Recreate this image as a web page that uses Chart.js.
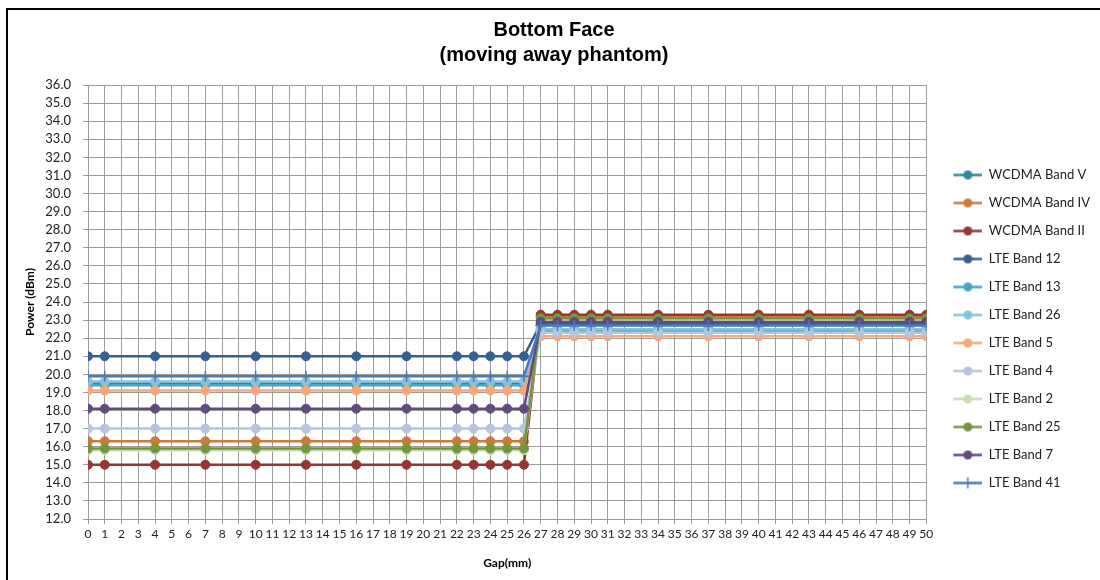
<!DOCTYPE html>
<html>
<head>
    <title>Bottom Face (moving away phantom)</title>
    <script src="https://cdn.jsdelivr.net/npm/chart.js"></script>
    <style>
        body { margin: 0; background: #fff; }
        #frame {
            position: absolute; left: 6px; top: 8px;
            width: 1094px; height: 572px;
            border-left: 2px solid #000; border-top: 2px solid #000;
        }
        #box { position: absolute; left: 0; top: 0; width: 1092px; height: 570px; }
    </style>
</head>
<body>
<div id="frame">
    <div id="box"><canvas id="powerChart"></canvas></div>
</div>
<script>
    // Gap positions (mm) where power was measured
    const gaps = [0, 1, 4, 7, 10, 13, 16, 19, 22, 23, 24, 25, 26,
                  27, 28, 29, 30, 31, 34, 37, 40, 43, 46, 49, 50];

    // Measured power (dBm) per band, one value per gap above
    const wcdmaBandV   = [19.5, 19.5, 19.5, 19.5, 19.5, 19.5, 19.5, 19.5, 19.5, 19.5, 19.5, 19.5, 19.5,
                          22.5, 22.5, 22.5, 22.5, 22.5, 22.5, 22.5, 22.5, 22.5, 22.5, 22.5, 22.5];
    const wcdmaBandIV  = [16.3, 16.3, 16.3, 16.3, 16.3, 16.3, 16.3, 16.3, 16.3, 16.3, 16.3, 16.3, 16.3,
                          23.2, 23.2, 23.2, 23.2, 23.2, 23.2, 23.2, 23.2, 23.2, 23.2, 23.2, 23.2];
    const wcdmaBandII  = [15.0, 15.0, 15.0, 15.0, 15.0, 15.0, 15.0, 15.0, 15.0, 15.0, 15.0, 15.0, 15.0,
                          23.3, 23.3, 23.3, 23.3, 23.3, 23.3, 23.3, 23.3, 23.3, 23.3, 23.3, 23.3];
    const lteBand12    = [21.0, 21.0, 21.0, 21.0, 21.0, 21.0, 21.0, 21.0, 21.0, 21.0, 21.0, 21.0, 21.0,
                          22.8, 22.8, 22.8, 22.8, 22.8, 22.8, 22.8, 22.8, 22.8, 22.8, 22.8, 22.8];
    const lteBand13    = [19.4, 19.4, 19.4, 19.4, 19.4, 19.4, 19.4, 19.4, 19.4, 19.4, 19.4, 19.4, 19.4,
                          22.4, 22.4, 22.4, 22.4, 22.4, 22.4, 22.4, 22.4, 22.4, 22.4, 22.4, 22.4];
    const lteBand26    = [19.6, 19.6, 19.6, 19.6, 19.6, 19.6, 19.6, 19.6, 19.6, 19.6, 19.6, 19.6, 19.6,
                          22.5, 22.5, 22.5, 22.5, 22.5, 22.5, 22.5, 22.5, 22.5, 22.5, 22.5, 22.5];
    const lteBand5     = [19.1, 19.1, 19.1, 19.1, 19.1, 19.1, 19.1, 19.1, 19.1, 19.1, 19.1, 19.1, 19.1,
                          22.1, 22.1, 22.1, 22.1, 22.1, 22.1, 22.1, 22.1, 22.1, 22.1, 22.1, 22.1];
    const lteBand4     = [17.0, 17.0, 17.0, 17.0, 17.0, 17.0, 17.0, 17.0, 17.0, 17.0, 17.0, 17.0, 17.0,
                          22.3, 22.3, 22.3, 22.3, 22.3, 22.3, 22.3, 22.3, 22.3, 22.3, 22.3, 22.3];
    const lteBand2     = [15.8, 15.8, 15.8, 15.8, 15.8, 15.8, 15.8, 15.8, 15.8, 15.8, 15.8, 15.8, 15.8,
                          23.0, 23.0, 23.0, 23.0, 23.0, 23.0, 23.0, 23.0, 23.0, 23.0, 23.0, 23.0];
    const lteBand25    = [15.9, 15.9, 15.9, 15.9, 15.9, 15.9, 15.9, 15.9, 15.9, 15.9, 15.9, 15.9, 15.9,
                          23.1, 23.1, 23.1, 23.1, 23.1, 23.1, 23.1, 23.1, 23.1, 23.1, 23.1, 23.1];
    const lteBand7     = [18.1, 18.1, 18.1, 18.1, 18.1, 18.1, 18.1, 18.1, 18.1, 18.1, 18.1, 18.1, 18.1,
                          22.9, 22.9, 22.9, 22.9, 22.9, 22.9, 22.9, 22.9, 22.9, 22.9, 22.9, 22.9];
    const lteBand41    = [19.9, 19.9, 19.9, 19.9, 19.9, 19.9, 19.9, 19.9, 19.9, 19.9, 19.9, 19.9, 19.9,
                          22.7, 22.7, 22.7, 22.7, 22.7, 22.7, 22.7, 22.7, 22.7, 22.7, 22.7, 22.7];

    const seriesNames = ['WCDMA Band V', 'WCDMA Band IV', 'WCDMA Band II', 'LTE Band 12', 'LTE Band 13',
                         'LTE Band 26', 'LTE Band 5', 'LTE Band 4', 'LTE Band 2', 'LTE Band 25',
                         'LTE Band 7', 'LTE Band 41'];
    const seriesValues = [wcdmaBandV, wcdmaBandIV, wcdmaBandII, lteBand12, lteBand13, lteBand26,
                          lteBand5, lteBand4, lteBand2, lteBand25, lteBand7, lteBand41];
    const seriesColors = ['#31859C', '#CC7A38', '#963634', '#376092', '#46A6C2', '#86C3D9',
                          '#F8A878', '#B6C4DE', '#C9DCB2', '#76963D', '#5F4B7D', '#4879B8'];

    const tickFont = 'Lato';
    const legendFontSize = 13;
    const gridColor = '#9c9c9c';

    // little line + marker icon for each legend entry
    function legendIcon(color, cross) {
        const c = document.createElement('canvas');
        c.width = 41; c.height = 13;
        const g = c.getContext('2d');
        g.strokeStyle = color; g.fillStyle = color; g.lineWidth = 2.5;
        g.beginPath(); g.moveTo(12, 6.5); g.lineTo(41, 6.5); g.stroke();
        if (cross) {
            g.lineWidth = 1.5;
            g.beginPath(); g.moveTo(26.5, 1); g.lineTo(26.5, 12); g.stroke();
        } else {
            g.beginPath(); g.arc(26.5, 6.5, 4.5, 0, Math.PI * 2); g.fill();
        }
        return c;
    }
    const legendIcons = seriesColors.map((col, i) => legendIcon(col, i === 11));

    // widest legend text decides how far the legend sits from the right edge
    const measure = document.createElement('canvas').getContext('2d');
    measure.font = legendFontSize + 'px ' + tickFont;
    const widestLabel = Math.max(...seriesNames.map(n => measure.measureText(n).width));
    const rightPad = Math.max(0, 100.5 - widestLabel);

    const datasets = seriesNames.map((name, i) => ({
        label: name,
        data: gaps.map((g, j) => ({ x: g, y: seriesValues[i][j] })),
        borderColor: seriesColors[i],
        backgroundColor: seriesColors[i],
        borderWidth: 2.5,
        pointStyle: i === 11 ? 'cross' : 'circle',
        pointRadius: i === 11 ? 5.5 : 4.5,
        pointBorderWidth: i === 11 ? 1.5 : 1,
        tension: 0,
        order: seriesNames.length - i   // later series drawn on top, like the original
    }));

    new Chart(document.getElementById('powerChart'), {
        type: 'line',
        data: { datasets: datasets },
        options: {
            responsive: true,
            maintainAspectRatio: false,
            animation: false,
            events: [],
            layout: { padding: { left: 0, top: 0, bottom: 0, right: rightPad } },
            plugins: {
                title: {
                    display: true,
                    text: ['Bottom Face', '(moving away phantom)'],
                    color: '#000',
                    font: { family: 'Liberation Sans', size: 20, weight: 'bold', lineHeight: 1.25 },
                    padding: { top: 7.5, bottom: 17.5 }
                },
                legend: {
                    position: 'right',
                    align: 'start',
                    title: { display: true, text: '', font: { size: 1, lineHeight: 1 }, padding: { top: 142.5, bottom: 0 } },
                    labels: {
                        usePointStyle: true,
                        pointStyleWidth: 41,
                        padding: 15,
                        color: '#222',
                        font: { family: tickFont, size: legendFontSize },
                        sort: (a, b) => a.datasetIndex - b.datasetIndex,
                        generateLabels: function(chart) {
                            const items = Chart.defaults.plugins.legend.labels.generateLabels(chart);
                            items.forEach(it => { it.pointStyle = legendIcons[it.datasetIndex]; });
                            return items;
                        }
                    }
                },
                tooltip: { enabled: false }
            },
            scales: {
                x: {
                    type: 'linear',
                    min: 0,
                    max: 50,
                    afterFit: function(scale) { scale.height = 61; },
                    grid: { color: gridColor, lineWidth: 1, tickLength: 5 },
                    border: { color: gridColor },
                    ticks: {
                        stepSize: 1,
                        autoSkip: false,
                        maxRotation: 0,
                        padding: 3,
                        color: '#222',
                        font: { family: tickFont, size: 12 }
                    },
                    title: {
                        display: true,
                        text: 'Gap(mm)',
                        color: '#000',
                        font: { family: tickFont, size: 12, weight: 'bold' },
                        padding: { top: 0, bottom: 10 }
                    }
                },
                y: {
                    min: 12,
                    max: 36,
                    afterFit: function(scale) { scale.width = 80; },
                    grid: { color: gridColor, lineWidth: 1, tickLength: 5 },
                    border: { color: gridColor },
                    ticks: {
                        stepSize: 1,
                        autoSkip: false,
                        padding: 12,
                        color: '#222',
                        font: { family: tickFont, size: 13 },
                        callback: function(v) { return v.toFixed(1); }
                    },
                    title: {
                        display: true,
                        text: 'Power (dBm)',
                        color: '#000',
                        font: { family: tickFont, size: 12, weight: 'bold' },
                        padding: { top: 15, bottom: 0 }
                    }
                }
            }
        }
    });
</script>
</body>
</html>
